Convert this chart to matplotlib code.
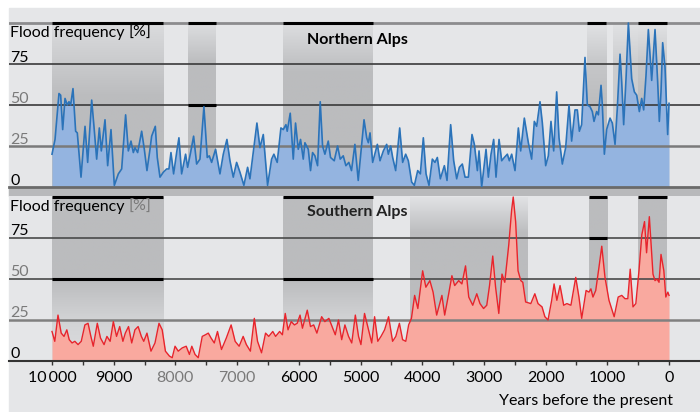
import numpy as np
import matplotlib.pyplot as plt
from matplotlib.colors import LinearSegmentedColormap
from matplotlib.patches import Rectangle

plt.rcParams['font.family'] = ['Lato', 'DejaVu Sans']

# Northern Alps flood frequency (%), years before present
north_years = [10000, 9951, 9887, 9860, 9827, 9789, 9752, 9725, 9698, 9660, 9617, 9590,
               9530, 9465, 9422, 9357, 9320, 9276, 9233, 9201, 9141, 9098, 9044, 8990,
               8925, 8871, 8807, 8763, 8720, 8682, 8655, 8612, 8547, 8504, 8461, 8412,
               8385, 8326, 8294, 8250, 8196, 8142, 8105, 8072, 8029, 7980, 7943, 7899,
               7835, 7802, 7754, 7705, 7656, 7602, 7538, 7484, 7451, 7413, 7349, 7278,
               7224, 7165, 7116, 7062, 7008, 6954, 6890, 6830, 6792, 6738, 6679, 6630,
               6576, 6506, 6441, 6404, 6350, 6290, 6252, 6209, 6188, 6139, 6090, 6053,
               6009, 5972, 5928, 5901, 5847, 5810, 5777, 5739, 5696, 5653, 5615, 5577,
               5523, 5486, 5426, 5372, 5329, 5280, 5237, 5189, 5146, 5091, 5037,
               4943, 4900, 4873, 4846, 4803, 4727, 4684, 4630, 4576, 4549, 4511, 4479,
               4430, 4365, 4317, 4268, 4225, 4171, 4127, 4073, 4030, 3982, 3938, 3890,
               3836, 3793, 3755, 3706, 3641, 3598, 3539, 3490, 3441, 3398, 3350, 3306,
               3252, 3193, 3155, 3106, 3079, 3036, 2966, 2928, 2885, 2842, 2804, 2755,
               2712, 2669, 2620, 2588, 2550, 2496, 2442, 2404, 2345, 2280, 2226, 2183,
               2145, 2091, 2053, 1999, 1956, 1913, 1869, 1821, 1783, 1729, 1675, 1621,
               1578, 1524, 1486, 1453, 1416, 1362, 1324, 1281, 1243, 1216, 1173, 1145,
               1102, 1081, 1048, 1011, 956, 919, 875, 838, 794, 767, 735, 697, 659, 605,
               562, 524, 481, 443, 411, 373, 335, 281, 227, 184, 157, 130, 103, 65, 22, 0]
north_vals = [20, 29, 57, 56, 35, 54, 50, 52, 50, 60, 34, 33,
              6, 37, 15, 53, 37, 17, 36, 22, 41, 13, 35, 1,
              8, 11, 44, 22, 28, 21, 24, 21, 34, 23, 10, 23,
              31, 37, 18, 6, 9, 11, 11, 21, 8, 21, 30, 8,
              20, 12, 21, 31, 14, 17, 49, 18, 19, 15, 23, 8,
              20, 29, 16, 6, 15, 9, 1, 12, 5, 21, 39, 24,
              32, 1, 17, 20, 15, 36, 35, 38, 34, 45, 17, 39,
              23, 29, 17, 27, 23, 10, 21, 19, 13, 52, 25, 20,
              28, 18, 16, 25, 17, 19, 13, 15, 10, 26, 4,
              41, 30, 27, 33, 15, 26, 16, 22, 26, 20, 25, 18,
              10, 36, 15, 20, 16, 3, 1, 10, 8, 30, 8, 1,
              17, 15, 18, 5, 13, 4, 38, 16, 5, 12, 14, 6,
              6, 32, 26, 10, 22, 0, 23, 6, 20, 29, 6, 29,
              16, 18, 20, 16, 20, 10, 36, 22, 42, 27, 17, 40,
              37, 52, 39, 13, 19, 40, 22, 58, 30, 14, 24, 50,
              28, 47, 47, 34, 38, 79, 50, 49, 46, 40, 46, 44,
              62, 50, 20, 35, 42, 39, 26, 48, 81, 64, 38, 66, 100, 66,
              58, 56, 46, 54, 47, 68, 96, 65, 96, 64, 40, 58, 88, 73, 32, 51]

# Southern Alps flood frequency (%)
south_years = [10000, 9955, 9903, 9851, 9805, 9760, 9721, 9675, 9630, 9578, 9526, 9467,
               9416, 9370, 9331, 9266, 9214, 9156, 9110, 9058, 9006, 8954, 8903, 8851,
               8812, 8760, 8708, 8656, 8604, 8552, 8513, 8461, 8396, 8331, 8266, 8214,
               8162, 8097, 8052, 8006, 7954, 7889, 7825, 7773, 7734, 7682, 7630, 7565,
               7513, 7467, 7422, 7370, 7318, 7253, 7175, 7097, 7032, 6967, 6902, 6850,
               6785, 6721, 6669, 6604, 6539, 6487, 6422, 6376, 6311, 6266, 6220, 6175,
               6123, 6071, 6026, 5980, 5941, 5863, 5811, 5759, 5707, 5630, 5578, 5513,
               5461, 5409, 5357, 5305, 5253, 5194, 5142, 5084, 5032, 4993, 4935, 4870,
               4818, 4772, 4720, 4668, 4610, 4545, 4480, 4428, 4370, 4318, 4266, 4220,
               4175, 4123, 4071, 3993, 3941, 3876, 3824, 3766, 3681, 3636, 3571, 3519,
               3474, 3409, 3357, 3298, 3246, 3181, 3116, 3064, 3006, 2954, 2909, 2857,
               2811, 2759, 2707, 2662, 2597, 2551, 2525, 2486, 2447, 2402, 2370, 2324,
               2240, 2175, 2123, 2058, 2012, 1961, 1902, 1863, 1818, 1766, 1707, 1655,
               1590, 1512, 1460, 1415, 1344, 1298, 1266, 1233, 1188, 1136, 1090, 1038,
               973, 889, 824, 766, 714, 668, 629, 584, 538, 487, 441, 397, 364, 319,
               260, 227, 195, 162, 130, 84, 52, 19, 0]
south_vals = [18, 12, 28, 17, 15, 19, 13, 11, 12, 10, 12, 22,
              23, 15, 9, 23, 14, 10, 15, 12, 24, 15, 21, 12,
              17, 21, 11, 19, 21, 15, 12, 17, 6, 11, 23, 19,
              6, 3, 2, 9, 6, 8, 9, 4, 9, 4, 2, 15,
              16, 17, 14, 11, 18, 7, 14, 22, 12, 9, 15, 10,
              6, 26, 12, 5, 17, 15, 18, 15, 18, 16, 29, 19,
              24, 22, 23, 28, 20, 31, 21, 22, 17, 27, 24, 26,
              21, 16, 25, 13, 22, 15, 11, 28, 15, 10, 29, 19,
              11, 27, 12, 15, 19, 27, 12, 15, 23, 13, 12, 22,
              26, 40, 32, 55, 45, 49, 42, 28, 40, 28, 41, 52,
              46, 49, 47, 58, 39, 34, 41, 35, 32, 34, 46, 64,
              45, 29, 53, 48, 71, 92, 100, 85, 55, 49, 48, 36,
              35, 41, 35, 33, 27, 25, 37, 47, 37, 46, 34, 35,
              34, 51, 39, 26, 43, 42, 44, 39, 43, 57, 70, 51,
              37, 27, 39, 40, 38, 38, 56, 33, 35, 55, 77, 85, 66, 88,
              53, 49, 50, 48, 65, 55, 39, 42, 40]

# shaded periods: (start, end, [(value, shade), ...]) shade 0 = background, 1 = dark
north_bands = [(10000, 8200, [(0, 1), (55, 1), (100, 0.25)]),
               (7800, 7350, [(0, 1), (75, 1), (100, 0.2)]),
               (6250, 4800, [(0, 1), (70, 1), (100, 0.2)]),
               (1330, 1020, [(0, 1), (50, 1), (75, 0.75), (100, 0.1)]),
               (910, 500, [(0, 0.6), (75, 0.6), (100, 0.1)]),
               (500, 30, [(0, 1), (50, 1), (75, 0.75), (100, 0.1)])]
south_bands = [(10000, 8200, [(0, 0.2), (25, 0.45), (50, 1), (100, 1)]),
               (6250, 4800, [(0, 0.2), (25, 0.45), (50, 1), (100, 1)]),
               (4200, 2300, [(0, 1), (78, 1), (100, 0.1)]),
               (1300, 1000, [(0, 1), (100, 1)]),
               (500, 30, [(0, 1), (100, 1)])]
north_marks = [(100, 10000, 8200), (100, 7800, 7350), (100, 6250, 4800),
               (100, 1330, 1020), (100, 500, 30), (50, 7800, 7350)]
south_marks = [(100, 10000, 8200), (100, 6250, 4800), (100, 1300, 1000),
               (100, 500, 30), (75, 1300, 1000), (50, 10000, 8200), (50, 6250, 4800)]

tick_years = [10000, 9000, 8000, 7000, 6000, 5000, 4000, 3000, 2000, 1000, 0]
tick_labels = ['10\u2009000', '9000', '8000', '7000', '6000', '5000', '4000',
               '3000', '2000', '1000', '0']

W, H = 700, 412
BG = '#e5e6e8'
DARK = '#bbbcbe'
GREY_TXT = '#7a7a7a'
band_cmap = LinearSegmentedColormap.from_list('band', [BG, DARK])


def rect(l, t, r, b):
    return [l / W, 1 - b / H, (r - l) / W, (b - t) / H]


def draw_band(ax, x0, x1, stops):
    ys = np.linspace(0, 100, 200)
    shade = np.interp(ys, [s[0] for s in stops], [s[1] for s in stops])
    ax.imshow(shade[:, None], extent=(x0, x1, 0, 100), origin='lower', aspect='auto',
              cmap=band_cmap, vmin=0, vmax=1, zorder=1, interpolation='bilinear')


fig = plt.figure(figsize=(W / 100, H / 100), dpi=100, facecolor='white')
fig.patches.append(Rectangle((9 / W, 0), 1 - 9 / W, 1 - 8 / H, transform=fig.transFigure,
                             color=BG, zorder=-5))
fig.patches.append(Rectangle((9 / W, 1 - 196 / H), 1 - 9 / W, 8.5 / H,
                             transform=fig.transFigure, color='#b8b9bb', zorder=-4))

ax1 = fig.add_axes(rect(9, 8, 700, 187))
ax2 = fig.add_axes(rect(9, 196, 700, 361))

panels = [(ax1, north_years, north_vals, north_bands, north_marks, '#94b4e0', '#2b73b9',
           1.2, (187 - 8) / 1.64),
          (ax2, south_years, south_vals, south_bands, south_marks, '#f9a99f', '#e8242c',
           1.0, 165 / 1.64)]

for ax, yrs, vals, bands, marks, fc, lc, lw, ytop in panels:
    ax.set_facecolor(BG)
    for s in ax.spines.values():
        s.set_visible(False)
    for x0, x1, stops in bands:
        draw_band(ax, x0, x1, stops)
    ax.fill_between(yrs, vals, 0, color=fc, lw=0, zorder=2)
    ax.plot(yrs, vals, color=lc, lw=lw, zorder=4)
    for y, x0, x1 in marks:
        ax.hlines(y, x0, x1, color='black', lw=2.2, zorder=3.5, clip_on=False)
    ax.set_xlim(10697, -502)
    ax.set_ylim(0, ytop)
    ax.set_yticks([])

# grid lines
ax1.axhline(100, color='#8c8c8e', lw=2, zorder=3)
ax1.axhline(75, color='#3a3a3a', lw=1.2, zorder=3)
ax1.axhline(50, color='#3a3a3a', lw=1.2, zorder=3)
ax1.axhline(25, color='#7a7a7a', lw=1.8, zorder=3)
ax1.axhline(0, color='#6a6a6a', lw=2, zorder=3, clip_on=False)
ax2.axhline(75, color='#4a4a4a', lw=1.2, zorder=3)
ax2.axhline(50, color='#4a4a4a', lw=1.2, zorder=3)
ax2.axhline(25, color='#808080', lw=1.8, zorder=3)

ax1.set_xticks([])
ax2.spines['bottom'].set_visible(True)
ax2.spines['bottom'].set_color('#333333')
ax2.spines['bottom'].set_linewidth(1.5)
ax2.set_xticks(tick_years, tick_labels)
ax2.set_xticks([9500, 8500, 7500, 6500, 5500, 4500, 3500, 2500, 1500, 500], minor=True)
ax2.tick_params(which='both', direction='out', length=3, width=1, color='#333333',
                labelsize=11.5, pad=4)
for lab, yr in zip(ax2.get_xticklabels(), tick_years):
    if yr in (8000, 7000):
        lab.set_color(GREY_TXT)

# y labels drawn inside the panels
for ax, off in [(ax1, 1.5), (ax2, 2.0)]:
    tr = ax.get_yaxis_transform()
    for v in (75, 50, 25, 0):
        ax.text(1.5 / 691, v + off, str(v), transform=tr, ha='left', va='baseline',
                fontsize=11.5, color=GREY_TXT if v in (50, 25) else 'black', zorder=6)
    ax.text(1.5 / 691, 91.5, 'Flood frequency', transform=tr, ha='left', va='baseline',
            fontsize=11.5, zorder=6)
    ax.text(119 / 691, 91.5, '[%]', transform=tr, ha='left', va='baseline',
            fontsize=11.5, zorder=6, color=GREY_TXT if ax is ax2 else 'black')

fig.text(357 / W, 1 - 40 / H, 'Northern Alps', ha='center', va='center',
         fontsize=11.5, fontweight='bold')
fig.text(357 / W, 1 - 212 / H, 'Southern Alps', ha='center', va='center',
         fontsize=11.5, fontweight='bold', color='#222222')
fig.text(673 / W, 1 - 401 / H, 'Years before the present', ha='right', va='center',
         fontsize=11.5)

fig.savefig('out.png', dpi=100, facecolor='white')
